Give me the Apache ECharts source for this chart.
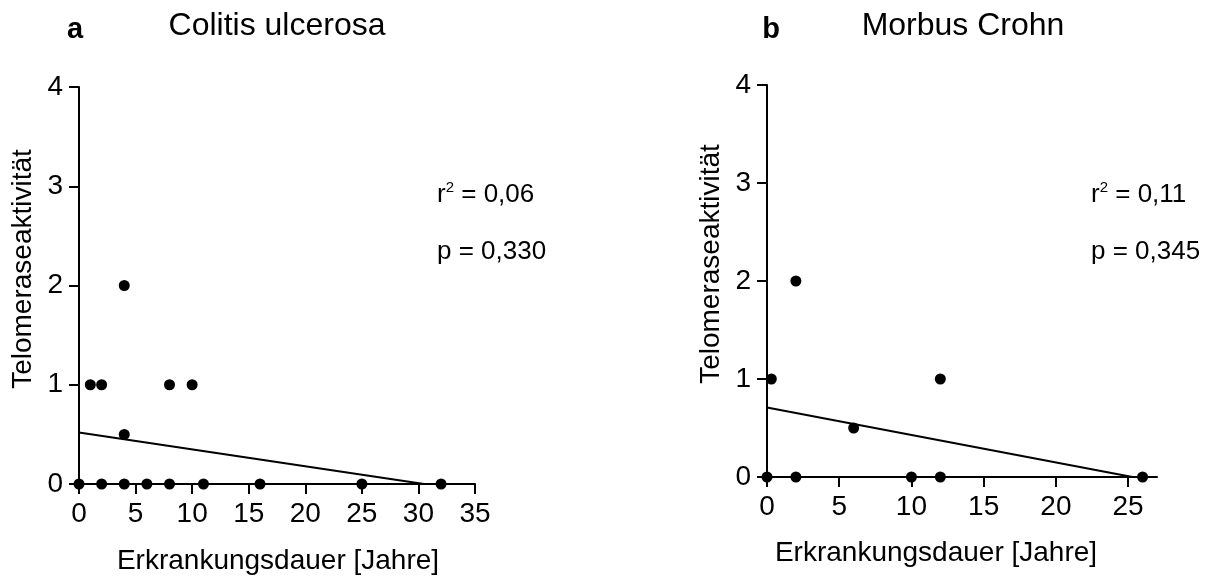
<!DOCTYPE html>
<html>
<head>
<meta charset="utf-8">
<script src="https://cdn.jsdelivr.net/npm/echarts@6/dist/echarts.min.js"></script>
<style>
html,body{margin:0;padding:0;background:#fff;}
#c{width:1211px;height:576px;}
</style>
</head>
<body>
<div id="c"></div>
<script>
// ---- data ----
const cuX = [0, 2, 4, 6, 8, 11, 16, 25, 32, 4, 4, 1, 2, 8, 10];
const cuY = [0, 0, 0, 0, 0, 0, 0, 0, 0, 0.5, 2, 1, 1, 1, 1];
const cuFitX = [0, 30.5];
const cuFitY = [0.52, 0];
const mcX = [0, 2, 10, 12, 26, 0.3, 12, 2, 6];
const mcY = [0, 0, 0, 0, 0, 1, 1, 2, 0.5];
const mcFitX = [0, 25.3];
const mcFitY = [0.71, 0];
const yTicks = [0, 1, 2, 3, 4];
const cuXTicks = [0, 5, 10, 15, 20, 25, 30, 35];
const mcXTicks = [0, 5, 10, 15, 20, 25];
const titleA = 'Colitis ulcerosa';
const titleB = 'Morbus Crohn';
const xName = 'Erkrankungsdauer [Jahre]';
const yName = 'Telomeraseaktivität';
const statsA = ['0,06', 'p = 0,330'];
const statsB = ['0,11', 'p = 0,345'];

const FONT = "'Liberation Sans', Arial, sans-serif";
const zip = (a, b) => a.map((v, i) => [v, b[i]]);

function xAxis(idx, max, ticks) {
  return {
    type: 'value', gridIndex: idx, min: 0, max: max, interval: 5,
    splitLine: {show: false},
    axisLine: {onZero: false, lineStyle: {color: '#000', width: 2}},
    axisTick: {length: 10, lineStyle: {color: '#000', width: 2}, customValues: ticks},
    axisLabel: {color: '#000', fontSize: 28, fontFamily: FONT, margin: 16, customValues: ticks}
  };
}
function yAxis(idx) {
  return {
    type: 'value', gridIndex: idx, min: 0, max: 4, interval: 1,
    splitLine: {show: false},
    axisLine: {onZero: false, lineStyle: {color: '#000', width: 2}},
    axisTick: {length: 10, lineStyle: {color: '#000', width: 2}, customValues: yTicks},
    axisLabel: {color: '#000', fontSize: 28, fontFamily: FONT, margin: 16, customValues: yTicks}
  };
}
function txt(text, x, y, size, opts) {
  return Object.assign({
    type: 'text', x: x, y: y,
    style: {text: text, fontSize: size, fontFamily: FONT, fill: '#000',
            align: (opts && opts.align) || 'center', verticalAlign: 'middle',
            fontWeight: (opts && opts.bold) ? 'bold' : 'normal'}
  }, (opts && opts.rot) ? {rotation: opts.rot} : {});
}
function rsq(value, x, y) {
  return {
    type: 'text', x: x, y: y,
    style: {
      text: '{r|r}{s|2}{r| = ' + value + '}',
      fontFamily: FONT, fill: '#000', align: 'left', verticalAlign: 'middle',
      rich: {
        r: {fontSize: 26, fontFamily: FONT, fill: '#000'},
        s: {fontSize: 15, fontFamily: FONT, fill: '#000', padding: [0, 0, 14, 0]}
      }
    }
  };
}

const chart = echarts.init(document.getElementById('c'), null, {renderer: 'canvas'});
chart.setOption({
  backgroundColor: '#fff',
  animation: false,
  grid: [
    {left: 79, top: 87, width: 396, height: 397},
    {left: 767, top: 85, width: 390, height: 392}
  ],
  xAxis: [xAxis(0, 35, cuXTicks), xAxis(1, 27, mcXTicks)],
  yAxis: [yAxis(0), yAxis(1)],
  series: [
    {type: 'scatter', xAxisIndex: 0, yAxisIndex: 0, data: zip(cuX, cuY), symbolSize: 11,
     itemStyle: {color: '#000', opacity: 1}, z: 5},
    {type: 'line', xAxisIndex: 0, yAxisIndex: 0, data: zip(cuFitX, cuFitY), showSymbol: false,
     lineStyle: {color: '#000', width: 2}, z: 4},
    {type: 'scatter', xAxisIndex: 1, yAxisIndex: 1, data: zip(mcX, mcY), symbolSize: 11,
     itemStyle: {color: '#000', opacity: 1}, z: 5},
    {type: 'line', xAxisIndex: 1, yAxisIndex: 1, data: zip(mcFitX, mcFitY), showSymbol: false,
     lineStyle: {color: '#000', width: 2}, z: 4}
  ],
  graphic: [
    txt('a', 75, 30, 29, {bold: true}),
    txt(titleA, 277, 26, 32),
    txt('b', 771, 30, 29, {bold: true}),
    txt(titleB, 963, 26, 32),
    txt(xName, 278, 561, 28),
    txt(xName, 936, 553, 28),
    txt(yName, 23, 269, 28, {rot: Math.PI / 2}),
    txt(yName, 711, 264, 28, {rot: Math.PI / 2}),
    rsq(statsA[0], 437, 195),
    txt(statsA[1], 437, 252, 26, {align: 'left'}),
    rsq(statsB[0], 1091, 195),
    txt(statsB[1], 1091, 252, 26, {align: 'left'})
  ]
});
</script>
</body>
</html>
